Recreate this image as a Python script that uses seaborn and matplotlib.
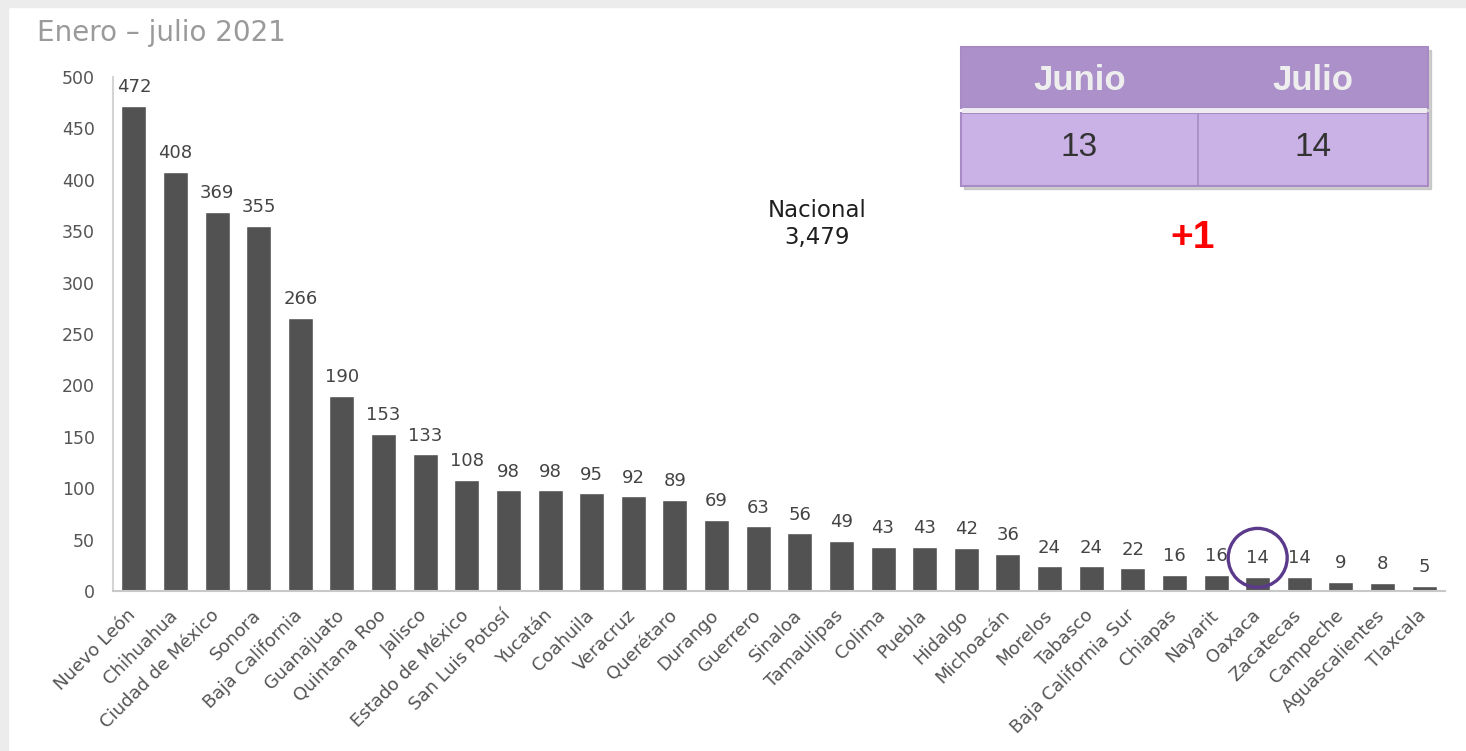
import matplotlib
matplotlib.use("Agg")
import matplotlib.pyplot as plt
import matplotlib.patches as mpatches
from matplotlib.transforms import ScaledTranslation
import pandas as pd
import seaborn as sns

# data
states = [
    "Nuevo León", "Chihuahua", "Ciudad de México", "Sonora", "Baja California",
    "Guanajuato", "Quintana Roo", "Jalisco", "Estado de México", "San Luis Potosí",
    "Yucatán", "Coahuila", "Veracruz", "Querétaro", "Durango", "Guerrero",
    "Sinaloa", "Tamaulipas", "Colima", "Puebla", "Hidalgo", "Michoacán",
    "Morelos", "Tabasco", "Baja California Sur", "Chiapas", "Nayarit", "Oaxaca",
    "Zacatecas", "Campeche", "Aguascalientes", "Tlaxcala",
]
cases = [
    472, 408, 369, 355, 266, 190, 153, 133, 108, 98, 98, 95, 92, 89, 69, 63,
    56, 49, 43, 43, 42, 36, 24, 24, 22, 16, 16, 14, 14, 9, 8, 5,
]
highlight = "Oaxaca"
months = ["Junio", "Julio"]
month_counts = [13, 14]
title = "Enero – julio 2021"

df = pd.DataFrame({"estado": states, "casos": cases})

sns.set_theme(style="white")
plt.rcParams["font.family"] = ["DejaVu Sans"]

fig = plt.figure(figsize=(14.66, 7.51), dpi=100, facecolor="white")
# grey frame strips (top and left) as in the screenshot
fig.patches.append(mpatches.Rectangle((0, 1 - 7 / 751), 1, 7 / 751, transform=fig.transFigure,
                                      color="#ececec", zorder=0))
fig.patches.append(mpatches.Rectangle((0, 0), 8 / 1466, 1, transform=fig.transFigure,
                                      color="#ececec", zorder=0))

ax = fig.add_axes([113 / 1466, 1 - 591 / 751, (1445 - 113) / 1466, (591 - 77) / 751])
sns.barplot(data=df, x="estado", y="casos", color="#525252", width=0.6,
            saturation=1, ax=ax)

ax.set_ylim(0, 500)
ax.set_xlim(-0.5, len(states) - 0.5)
ax.set_yticks(range(0, 501, 50))
ax.set_xlabel("")
ax.set_ylabel("")
ax.tick_params(axis="y", length=0, pad=13, labelsize=12.5, labelcolor="#555555")
ax.tick_params(axis="x", length=0, pad=11, labelsize=13, labelcolor="#555555")
shift = ScaledTranslation(-5 / 72, 0, fig.dpi_scale_trans)
for lbl in ax.get_xticklabels():
    lbl.set_rotation(45)
    lbl.set_ha("right")
    lbl.set_rotation_mode("anchor")
    lbl.set_transform(lbl.get_transform() + shift)

for side in ["top", "right"]:
    ax.spines[side].set_visible(False)
ax.spines["left"].set_color("#d4d4d4")
ax.spines["left"].set_linewidth(1.5)
ax.spines["bottom"].set_color("#c8c8c8")
ax.spines["bottom"].set_linewidth(1.5)

labels = ax.bar_label(ax.containers[0], padding=7, fontsize=13, color="#444444")
for lbl, name in zip(labels, states):
    if name == highlight:
        lbl.set_bbox(dict(boxstyle="circle,pad=1.0", fc="none", ec="#5b3a8c", lw=2.4))

# Nacional total
fig.text(817 / 1466, 1 - 224 / 751, "Nacional\n{:,}".format(sum(cases)), ha="center",
         va="center", fontsize=16.5, color="#1e1e1e", linespacing=1.25)

# title
fig.text(37 / 1466, 1 - 33 / 751, title, ha="left", va="center", fontsize=20,
         color="#9a9a9a")

# month comparison table (figure coords)
px = lambda v: v / 1466
py = lambda v: 1 - v / 751
x0, x1 = 961, 1428
xm = (x0 + x1) / 2 + 3
# shadow
fig.patches.append(mpatches.Rectangle((px(x0 + 3), py(189)), px(x1 - x0), (189 - 50) / 751,
                                      transform=fig.transFigure, color="#b0b0b0", alpha=0.6,
                                      zorder=1))
fig.patches.append(mpatches.Rectangle((px(x0), py(108)), px(x1 - x0), (108 - 47) / 751,
                                      transform=fig.transFigure, fc="#ab90c9", ec="#a88bc5",
                                      lw=1.5, zorder=2))
fig.patches.append(mpatches.Rectangle((px(x0), py(186)), px(x1 - x0), (186 - 113) / 751,
                                      transform=fig.transFigure, fc="#cab2e6", ec="#a88bc5",
                                      lw=1.5, zorder=2))
fig.patches.append(mpatches.Rectangle((px(x0 + 1), py(113)), px(x1 - x0 - 2), 5 / 751,
                                      transform=fig.transFigure, fc="#eeecf0", ec="none",
                                      zorder=3))
fig.lines.append(plt.Line2D([px(xm), px(xm)], [py(186), py(113)], transform=fig.transFigure,
                            color="#a58cc4", lw=1.2, zorder=3))
centers = [(x0 + xm) / 2, (xm + x1) / 2]
for cx, m, n in zip(centers, months, month_counts):
    fig.text(px(cx), py(80), m, ha="center", va="center", fontsize=25, fontweight="bold",
             color="#eeeeee", family=["Liberation Sans"], zorder=4)
    fig.text(px(cx), py(147), str(n), ha="center", va="center", fontsize=24,
             color="#333333", family=["Liberation Sans"], zorder=4)

diff = month_counts[1] - month_counts[0]
fig.text(px(1193), py(238), "{:+d}".format(diff), ha="center", va="center", fontsize=28,
         fontweight="bold", color="#ff0000", family=["Liberation Sans"])

fig.savefig("out.png", dpi=100, facecolor=fig.get_facecolor())
